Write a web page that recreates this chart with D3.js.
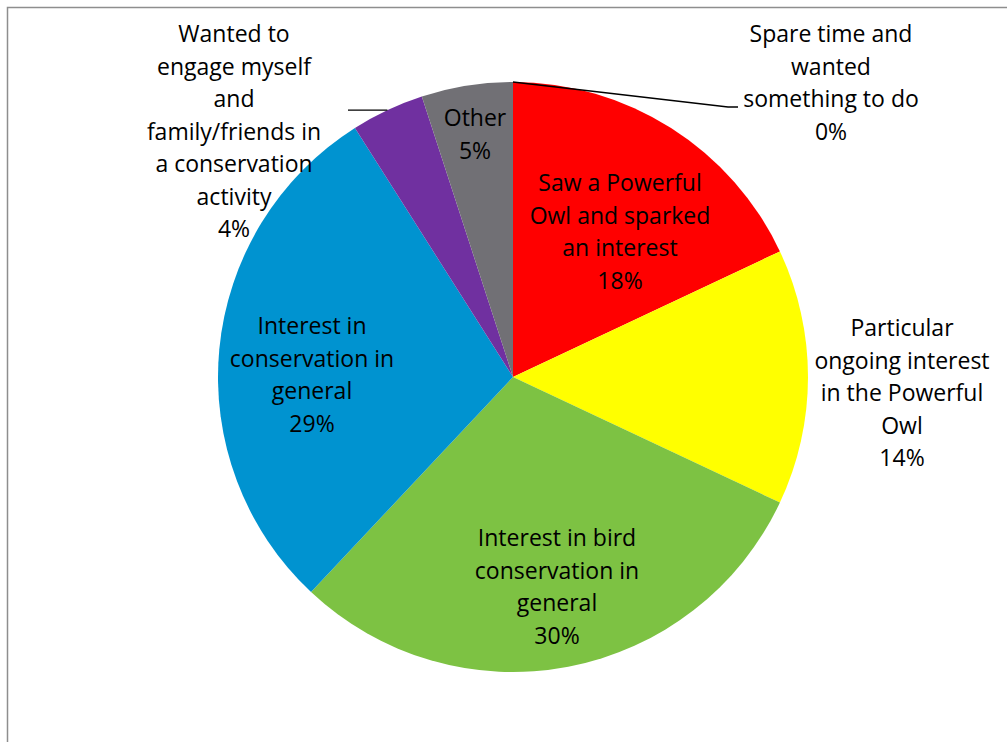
<!DOCTYPE html>
<html>
<head>
<meta charset="utf-8">
<script src="https://cdn.jsdelivr.net/npm/d3@7"></script>
<style>
  html, body { margin: 0; padding: 0; background: #fff; }
  svg { display: block; }
  text { font-family: "Open Sans", "Noto Sans", sans-serif; fill: #000; }
</style>
</head>
<body>
<svg id="chart" width="1007" height="742"></svg>
<script>
// Reasons for joining, share of respondents (%), clockwise from 12 o'clock
const categories = [
  "Spare time and wanted something to do",
  "Saw a Powerful Owl and sparked an interest",
  "Particular ongoing interest in the Powerful Owl",
  "Interest in bird conservation in general",
  "Interest in conservation in general",
  "Wanted to engage myself and family/friends in a conservation activity",
  "Other"
];
const values = [0, 18, 14, 30, 29, 4, 5];
// Wrapped label lines as shown on the chart
const labelLines = [
  ["Spare time and", "wanted", "something to do"],
  ["Saw a Powerful", "Owl and sparked", "an interest"],
  ["Particular", "ongoing interest", "in the Powerful", "Owl"],
  ["Interest in bird", "conservation in", "general"],
  ["Interest in", "conservation in", "general"],
  ["Wanted to", "engage myself", "and", "family/friends in", "a conservation", "activity"],
  ["Other"]
];
const colors = ["#4472C4", "#FF0000", "#FFFF00", "#7DC243", "#0093D0", "#7030A0", "#717075"];

// Label anchors: centre x and first-line centre y, as offsets from the pie centre
const labelAnchor = [
  [318, -343], [107, -194], [389, -49], [44, 161],
  [-201, -51], [-279, -343], [-38, -259]
];
// Labels outside the pie that get a leader line
const leaders = {
  0: { elbow: [215, -270], end: [225, -270] },
  5: { end: [-165, null] }
};

const svg = d3.select("#chart");
const W = 1007, H = 742;
const cx = 513, cy = 377, R = 295;
const lineStep = 32.5;

// chart frame (top and left edges visible)
svg.append("rect")
  .attr("x", 7.5).attr("y", 7.5)
  .attr("width", W).attr("height", H)
  .attr("fill", "none").attr("stroke", "#8e8e8e").attr("stroke-width", 1.5);

const pie = d3.pie().value(d => d).sort(null);
const arcs = pie(values);
const arc = d3.arc().innerRadius(0).outerRadius(R);

const g = svg.append("g").attr("transform", `translate(${cx},${cy})`);

g.selectAll("path.slice")
  .data(arcs)
  .join("path")
  .attr("class", "slice")
  .attr("d", arc)
  .attr("fill", (d, i) => colors[i]);

// leader lines
function arcPoint(a, r) { return [Math.sin(a) * r, -Math.cos(a) * r]; }
Object.keys(leaders).forEach(k => {
  const i = +k;
  const a = (arcs[i].startAngle + arcs[i].endAngle) / 2;
  const p0 = arcPoint(a, R);
  const L = leaders[k];
  const pts = L.elbow ? [p0, L.elbow, L.end] : [p0, [L.end[0], p0[1]]];
  g.append("path")
    .attr("d", d3.line()(pts))
    .attr("fill", "none")
    .attr("stroke", "#000")
    .attr("stroke-width", 1.3);
});

// labels: category lines then the percentage
const fmt = d3.format(".0f");
arcs.forEach((d, i) => {
  const lines = labelLines[i].concat([fmt(values[i]) + "%"]);
  const [ax, ay] = labelAnchor[i];
  const t = g.append("text")
    .attr("text-anchor", "middle")
    .attr("font-size", 23);
  lines.forEach((s, j) => {
    t.append("tspan")
      .attr("x", ax)
      .attr("y", ay + j * lineStep)
      .attr("dy", "0.36em")
      .text(s);
  });
});
</script>
</body>
</html>
